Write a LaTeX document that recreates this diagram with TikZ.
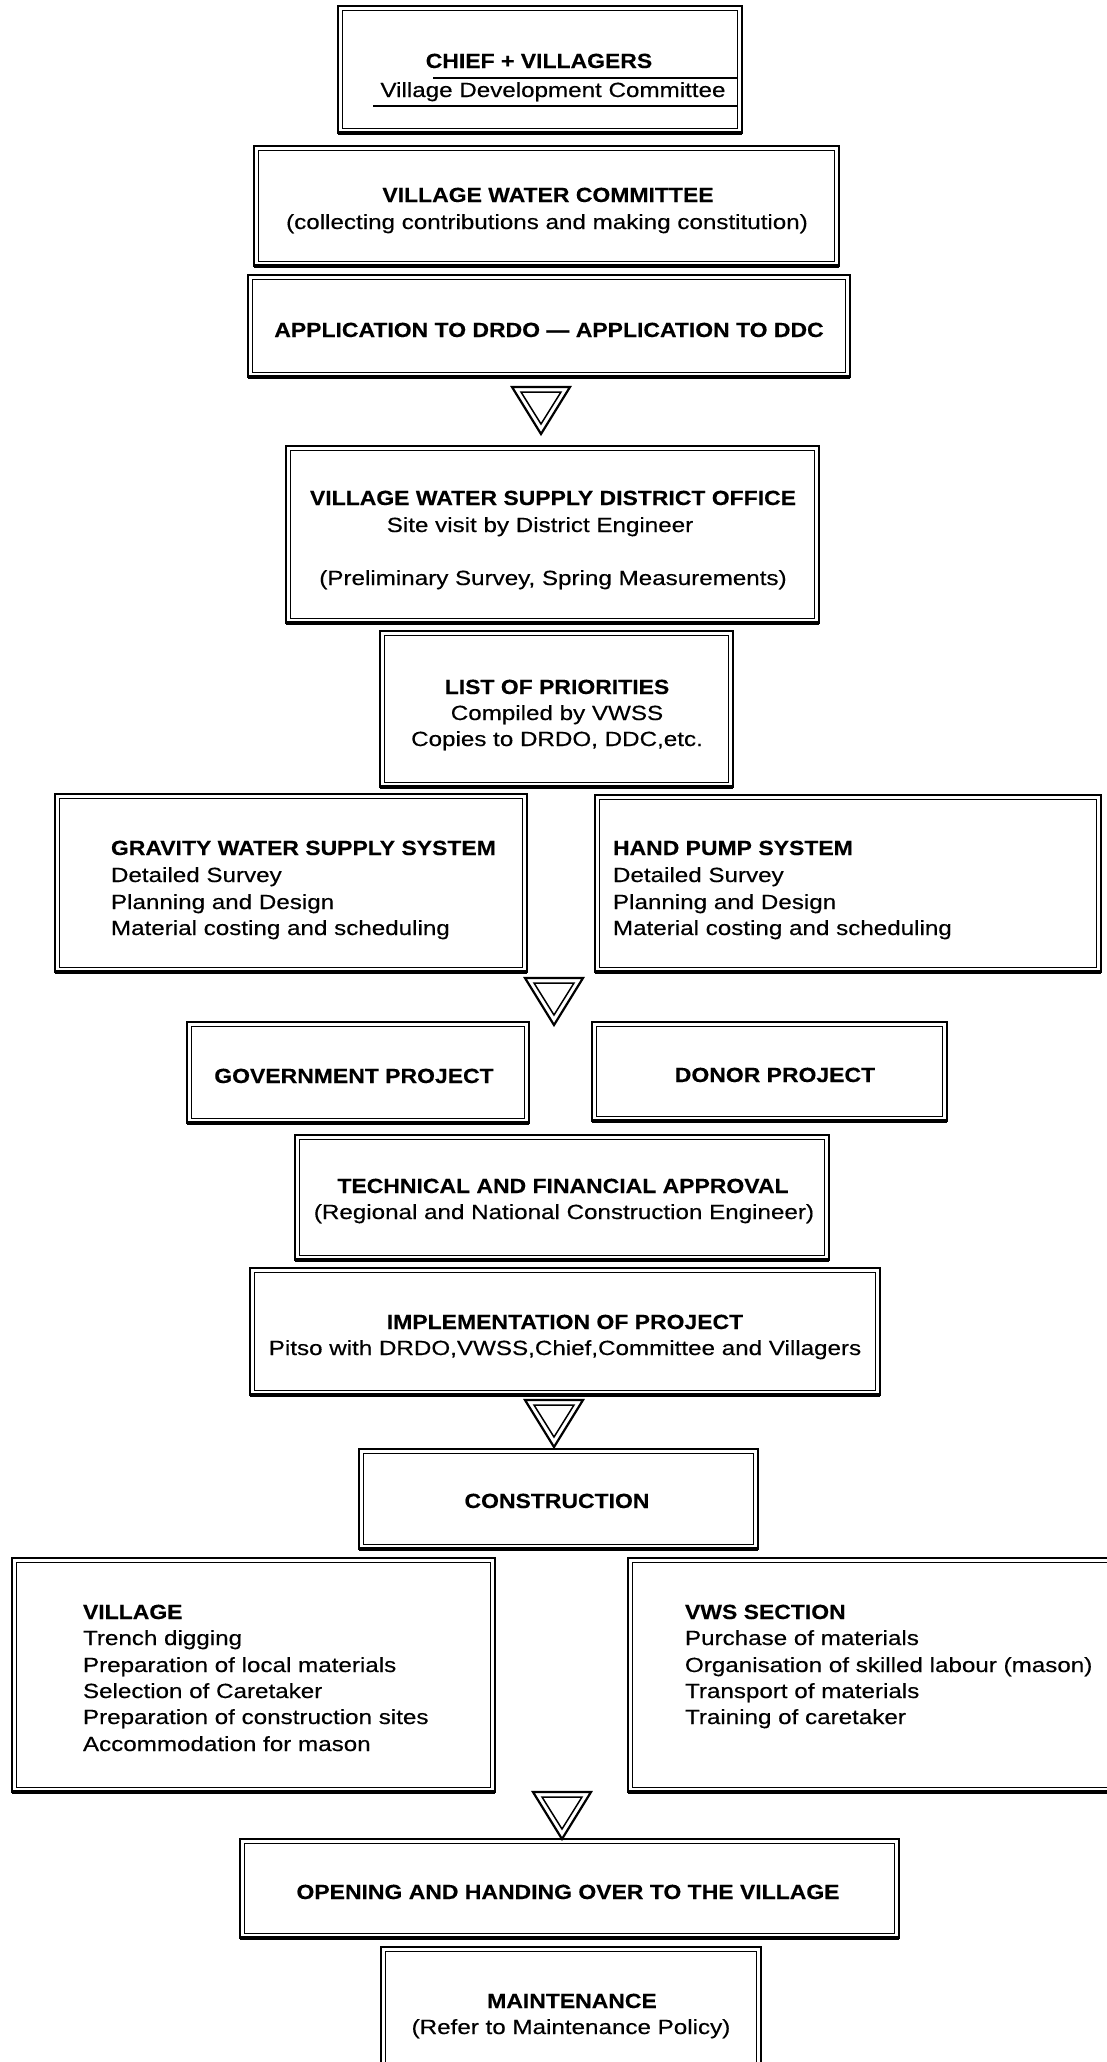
\documentclass[tikz,border=0pt]{standalone}
\usepackage{fontspec}
\usetikzlibrary{calc}
\setmainfont{Liberation Sans}[FakeStretch=1.18,FakeBold=0.35]
\newfontfamily\hbf{Liberation Sans}[FakeStretch=1.12,FakeBold=0.25]
\newcommand\txtfont{\fontsize{20.5}{26.5}\selectfont}
\newcommand\mkbox[5]{%
  \pgfmathsetmacro\bxw{#4-#2-2.4}\pgfmathsetmacro\bxh{#5-#3-2.4}%
  \node[dbox, minimum width=\bxw pt, minimum height=\bxh pt] (#1) at ({(#2+#4)/2},{(#3+#5)/2}) {};
  \draw[line width=1.2pt] ($(#1.north west)+(4,4)$) rectangle ($(#1.south east)+(-4,-4)$);
  \draw[line width=3.4pt] (#1.south west) -- (#1.south east);}
\tikzset{
  dbox/.style={draw, line width=2.4pt, inner sep=0pt, outer sep=0pt, rectangle},
  tx/.style={inner sep=0pt, outer sep=0pt, font=\txtfont},
  hd/.style={inner sep=0pt, outer sep=0pt, font=\txtfont\hbf\bfseries},
  tri/.pic={
    \draw[line width=2.2pt] (-29,0) -- (29,0) -- (0,47) -- cycle;
    \draw[line width=1.5pt] (-20,5) -- (20,5) -- (0,37) -- cycle;
  }
}
\begin{document}
\begin{tikzpicture}[x=1pt,y=-1pt]
\useasboundingbox (0,0) rectangle (1107,2062);
\clip (0,0) rectangle (1107,2062);
\fill[white] (0,0) rectangle (1107,2062);

% boxes
\mkbox{chief}{337}{5}{743}{134}
\mkbox{vwc}{253}{145}{840}{267}
\mkbox{app}{247}{274}{851}{378}
\mkbox{vwsdo}{285}{445}{820}{624}
\mkbox{list}{379}{630}{734}{788}
\mkbox{grav}{54}{793}{528}{973}
\mkbox{hand}{594}{794}{1102}{973}
\mkbox{gov}{186}{1021}{530}{1124}
\mkbox{donor}{591}{1021}{948}{1122}
\mkbox{tfa}{294}{1134}{830}{1261}
\mkbox{impl}{249}{1267}{881}{1396}
\mkbox{constr}{358}{1448}{759}{1550}
\mkbox{vill}{11}{1557}{496}{1793}
\mkbox{vws}{627}{1557}{1120}{1793}
\mkbox{open}{239}{1838}{900}{1939}
\mkbox{maint}{380}{1946}{762}{2085}

% triangles
\pic (ta) at (541,387) {tri};
\pic (tb) at (554,978) {tri};
\pic (tc) at (554,1400) {tri};
\pic (td) at (562,1792) {tri};

% chief box
\node[hd, anchor=base] (c1) at (539,68) {CHIEF + VILLAGERS};
\node[tx, anchor=base] (c2) at (553,97) {Village Development Committee};
\coordinate (l1a) at (433,78); \coordinate (l1b) at (738,78);
\coordinate (l2a) at (373,106); \coordinate (l2b) at (738,106);
\draw[line width=1.8pt] (l1a) -- (l1b);
\draw[line width=1.8pt] (l2a) -- (l2b);

% vwc
\node[hd, anchor=base] (w1) at (548,202) {VILLAGE WATER COMMITTEE};
\node[tx, anchor=base] (w2) at (547,229) {(collecting contributions and making constitution)};
% app
\node[hd, anchor=base] (a1) at (549,337) {APPLICATION TO DRDO — APPLICATION TO DDC};
% vwsdo
\node[hd, anchor=base] (d1) at (553,505) {VILLAGE WATER SUPPLY DISTRICT OFFICE};
\node[tx, anchor=base] (d2) at (540,532) {Site visit by District Engineer};
\node[tx, anchor=base] (d3) at (553,585) {(Preliminary Survey, Spring Measurements)};
% list
\node[hd, anchor=base] (p1) at (557,694) {LIST OF PRIORITIES};
\node[tx, anchor=base] (p2) at (557,720) {Compiled by VWSS};
\node[tx, anchor=base] (p3) at (557,746) {Copies to DRDO, DDC,etc.};
% gravity
\node[hd, anchor=base west] (g1) at (111,855) {GRAVITY WATER SUPPLY SYSTEM};
\node[tx, anchor=base west] (g2) at (111,882) {Detailed Survey};
\node[tx, anchor=base west] (g3) at (111,909) {Planning and Design};
\node[tx, anchor=base west] (g4) at (111,935) {Material costing and scheduling};
% hand pump
\node[hd, anchor=base west] (h1) at (613,855) {HAND PUMP SYSTEM};
\node[tx, anchor=base west] (h2) at (613,882) {Detailed Survey};
\node[tx, anchor=base west] (h3) at (613,909) {Planning and Design};
\node[tx, anchor=base west] (h4) at (613,935) {Material costing and scheduling};
% gov / donor
\node[hd, anchor=base] (gp) at (354,1083) {GOVERNMENT PROJECT};
\node[hd, anchor=base] (dp) at (775,1082) {DONOR PROJECT};
% tfa
\node[hd, anchor=base] (f1) at (563,1193) {TECHNICAL AND FINANCIAL APPROVAL};
\node[tx, anchor=base] (f2) at (564,1219) {(Regional and National Construction Engineer)};
% impl
\node[hd, anchor=base] (i1) at (565,1329) {IMPLEMENTATION OF PROJECT};
\node[tx, anchor=base] (i2) at (565,1355) {Pitso with DRDO,VWSS,Chief,Committee and Villagers};
% construction
\node[hd, anchor=base] (k1) at (557,1508) {CONSTRUCTION};
% village
\node[hd, anchor=base west] (v1) at (83,1619) {VILLAGE};
\node[tx, anchor=base west] (v2) at (83,1645) {Trench digging};
\node[tx, anchor=base west] (v3) at (83,1672) {Preparation of local materials};
\node[tx, anchor=base west] (v4) at (83,1698) {Selection of Caretaker};
\node[tx, anchor=base west] (v5) at (83,1724) {Preparation of construction sites};
\node[tx, anchor=base west] (v6) at (83,1751) {Accommodation for mason};
% vws section
\node[hd, anchor=base west] (s1) at (685,1619) {VWS SECTION};
\node[tx, anchor=base west] (s2) at (685,1645) {Purchase of materials};
\node[tx, anchor=base west] (s3) at (685,1672) {Organisation of skilled labour (mason)};
\node[tx, anchor=base west] (s4) at (685,1698) {Transport of materials};
\node[tx, anchor=base west] (s5) at (685,1724) {Training of caretaker};
% opening
\node[hd, anchor=base] (o1) at (568,1899) {OPENING AND HANDING OVER TO THE VILLAGE};
% maintenance
\node[hd, anchor=base] (m1) at (572,2008) {MAINTENANCE};
\node[tx, anchor=base] (m2) at (571,2034) {(Refer to Maintenance Policy)};
\end{tikzpicture}
\end{document}
